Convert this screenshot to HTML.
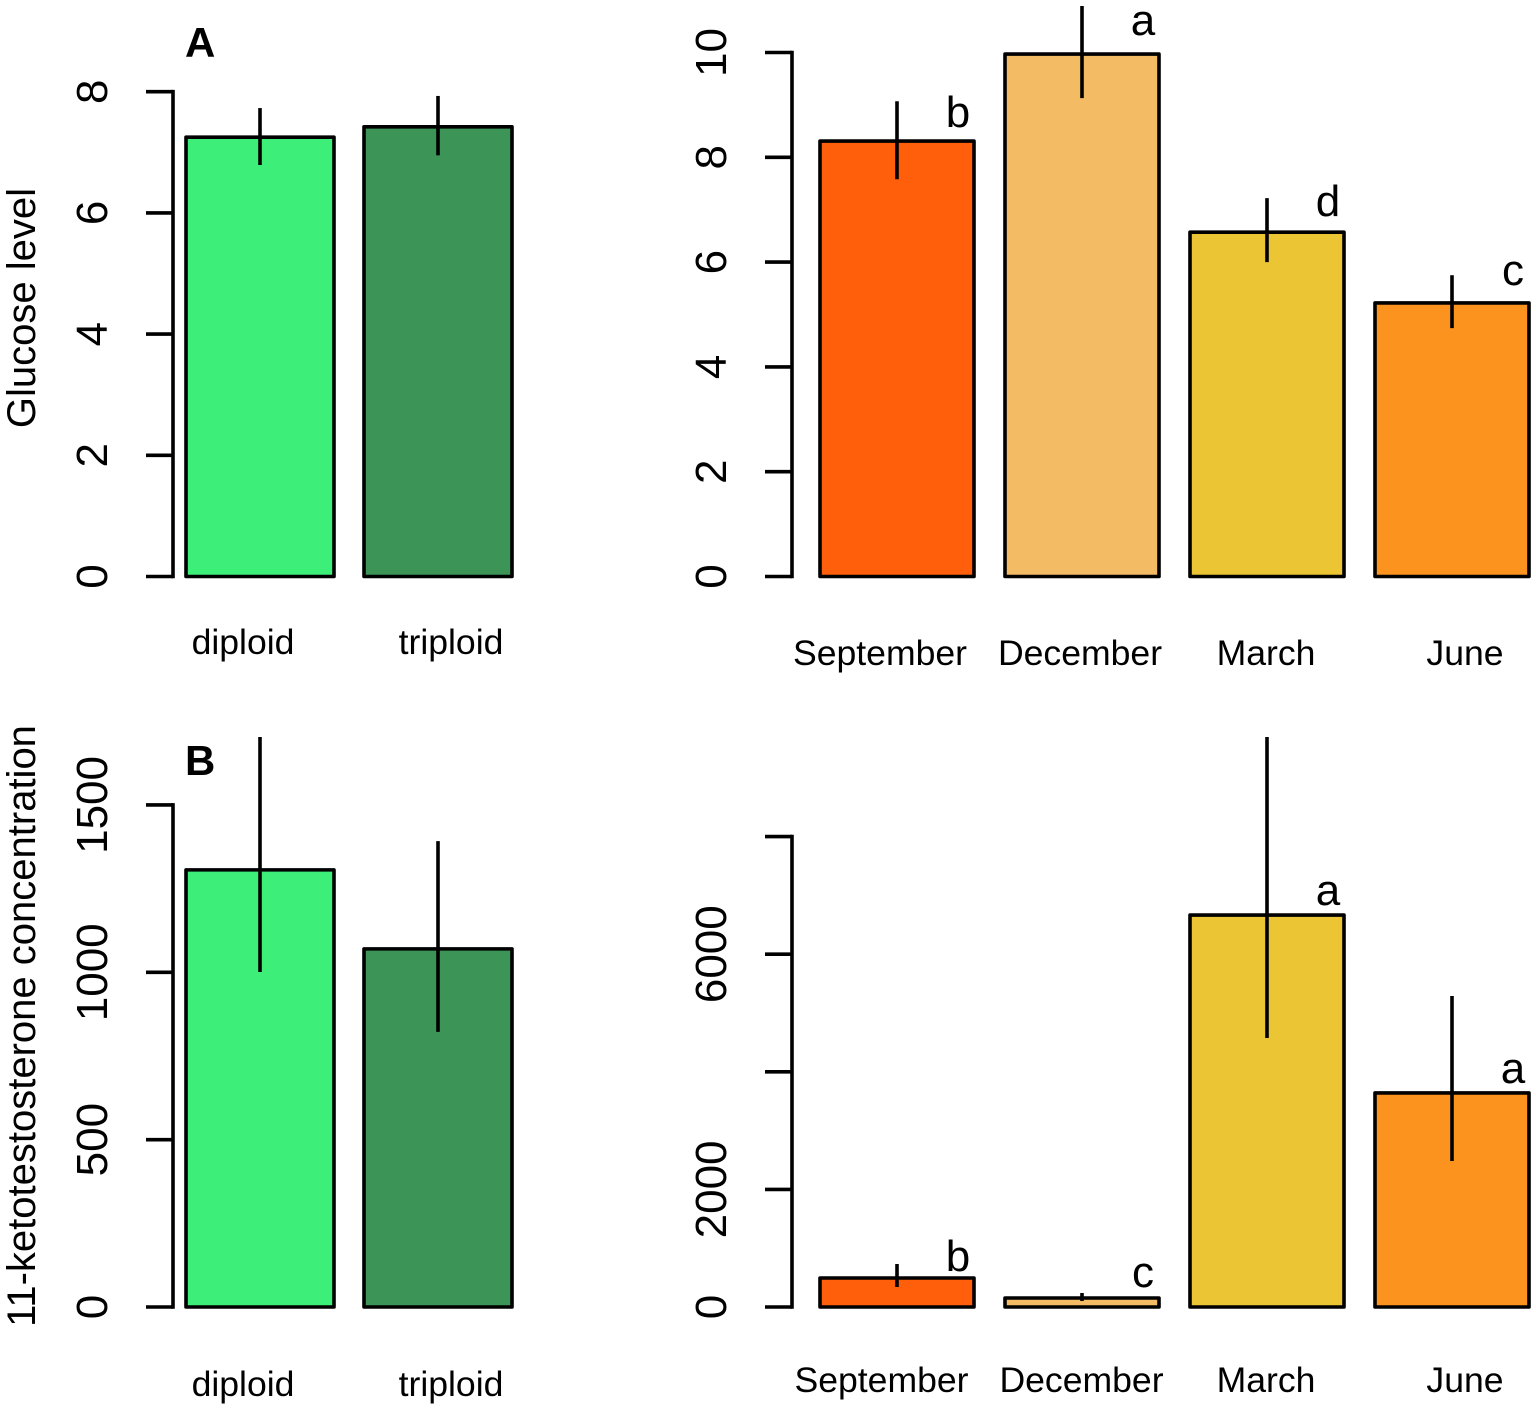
<!DOCTYPE html>
<html>
<head>
<meta charset="utf-8">
<title>Glucose and 11-ketotestosterone bar charts</title>
<style>
html,body{margin:0;padding:0;background:#fff}
svg{display:block}
text{font-family:"Liberation Sans",Arial,sans-serif;fill:#000}
</style>
</head>
<body>
<svg id="chart" xmlns="http://www.w3.org/2000/svg" width="1536" height="1409" viewBox="0 0 1536 1409"></svg>
<script>
// ---- Data ----
const ploidyCategories = ['diploid', 'triploid'];
const seasonCategories = ['September', 'December', 'March', 'June'];
const ploidyColors = ['#3def78', '#3c9556'];
const seasonColors = ['#ff5f0a', '#f4bb65', '#ebc533', '#fc931e'];

const glucosePloidyValues = [7.25, 7.42];
const glucosePloidyUpper = [7.73, 7.93];
const glucosePloidyLower = [6.79, 6.95];
const glucosePloidyTicks = [0, 2, 4, 6, 8];
const glucosePloidyTickLabels = ['0', '2', '4', '6', '8'];

const glucoseSeasonValues = [8.31, 9.97, 6.57, 5.22];
const glucoseSeasonUpper = [9.07, 10.95, 7.22, 5.75];
const glucoseSeasonLower = [7.58, 9.13, 6.0, 4.74];
const glucoseSeasonLetters = ['b', 'a', 'd', 'c'];
const glucoseSeasonTicks = [0, 2, 4, 6, 8, 10];
const glucoseSeasonTickLabels = ['0', '2', '4', '6', '8', '10'];

const ketoPloidyValues = [1306, 1070];
const ketoPloidyUpper = [1760, 1392];
const ketoPloidyLower = [1001, 822];
const ketoPloidyTicks = [0, 500, 1000, 1500];
const ketoPloidyTickLabels = ['0', '500', '1000', '1500'];

const ketoSeasonValues = [493, 153, 6666, 3640];
const ketoSeasonUpper = [731, 238, 10000, 5289];
const ketoSeasonLower = [340, 102, 4575, 2483];
const ketoSeasonLetters = ['b', 'c', 'a', 'a'];
const ketoSeasonTicks = [0, 2000, 4000, 6000, 8000];
const ketoSeasonTickLabels = ['0', '2000', '', '6000', ''];

// ---- Drawing helpers ----
const svg = document.getElementById('chart');
const NS = 'http://www.w3.org/2000/svg';
const LINE_WIDTH = 3.6;

function make(tag, attrs, parent) {
  const el = document.createElementNS(NS, tag);
  for (const k in attrs) el.setAttribute(k, attrs[k]);
  (parent || svg).appendChild(el);
  return el;
}

function drawPanel(p) {
  const group = make('g', {});
  
  

  const yScale = v => p.y0 - v * p.pxPerUnit;
  const clipId = p.name + '-clip';
  const defs = make('defs', {}, group);
  const clip = make('clipPath', { id: clipId }, defs);
  make('rect', { x: 0, y: p.clipTop, width: 1536, height: 1409 - p.clipTop }, clip);

  // y axis
  const firstTick = p.ticks[0];
  const lastTick = p.ticks[p.ticks.length - 1];
  const axisLine = make('line', {
    x1: p.axisX, x2: p.axisX, y1: yScale(firstTick), y2: yScale(lastTick),
    stroke: '#000', 'stroke-width': LINE_WIDTH, 'stroke-linecap': 'square'
  }, group);
  
  

  p.ticks.forEach((t, i) => {
    const tick = make('line', {
      x1: p.axisX - 27, x2: p.axisX, y1: yScale(t), y2: yScale(t),
      stroke: '#000', 'stroke-width': LINE_WIDTH
    }, group);
    
    
    if (p.tickLabels[i]) {
      const lbl = make('text', {
        x: p.axisX - 66, y: yScale(t), 'font-size': 44, 'text-anchor': 'middle',
        transform: 'rotate(-90 ' + (p.axisX - 66) + ' ' + yScale(t) + ')'
      }, group);
      lbl.textContent = p.tickLabels[i];
      
      
    }
  });

  // bars and error bars
  p.values.forEach((v, i) => {
    const left = p.barStart + i * p.barStep;
    const top = yScale(v);
    const bar = make('rect', {
      x: left, y: top, width: p.barWidth, height: yScale(0) - top,
      fill: p.colors[i], stroke: '#000', 'stroke-width': LINE_WIDTH, 'stroke-linejoin': 'round'
    }, group);
    
    

    const cx = left + p.barWidth / 2;
    const err = make('line', {
      x1: cx, x2: cx, y1: yScale(p.upper[i]), y2: yScale(p.lower[i]),
      stroke: '#000', 'stroke-width': LINE_WIDTH, 'clip-path': 'url(#' + clipId + ')'
    }, group);
    
    

    if (p.letters) {
      const sig = make('text', {
        x: left + p.barWidth - 16, y: top - p.letterGaps[i],
        'font-size': 44, 'text-anchor': 'middle'
      }, group);
      sig.textContent = p.letters[i];
      
      
    }

    const cat = make('text', {
      x: p.labelCenters[i], y: p.labelBaseline, 'font-size': 35.6, 'text-anchor': 'middle'
    }, group);
    cat.textContent = p.categories[i];
    
    
  });
}

// ---- Panels ----
drawPanel({
  name: 'glucose-ploidy', axisX: 173, y0: 576.5, pxPerUnit: 60.6, clipTop: 6,
  ticks: glucosePloidyTicks, tickLabels: glucosePloidyTickLabels,
  categories: ploidyCategories, colors: ploidyColors,
  values: glucosePloidyValues, upper: glucosePloidyUpper, lower: glucosePloidyLower,
  barStart: 186, barStep: 178, barWidth: 148,
  labelCenters: [243, 451], labelBaseline: 654
});
drawPanel({
  name: 'glucose-season', axisX: 792, y0: 576.5, pxPerUnit: 52.4, clipTop: 6,
  ticks: glucoseSeasonTicks, tickLabels: glucoseSeasonTickLabels,
  categories: seasonCategories, colors: seasonColors,
  values: glucoseSeasonValues, upper: glucoseSeasonUpper, lower: glucoseSeasonLower,
  letters: glucoseSeasonLetters, letterGaps: [14, 19, 16, 18],
  barStart: 820, barStep: 185, barWidth: 154,
  labelCenters: [880, 1080, 1266, 1465], labelBaseline: 665
});
drawPanel({
  name: 'keto-ploidy', axisX: 173, y0: 1307, pxPerUnit: 0.3347, clipTop: 737,
  ticks: ketoPloidyTicks, tickLabels: ketoPloidyTickLabels,
  categories: ploidyCategories, colors: ploidyColors,
  values: ketoPloidyValues, upper: ketoPloidyUpper, lower: ketoPloidyLower,
  barStart: 186, barStep: 178, barWidth: 148,
  labelCenters: [243, 451], labelBaseline: 1396
});
drawPanel({
  name: 'keto-season', axisX: 792, y0: 1307, pxPerUnit: 0.0588, clipTop: 737,
  ticks: ketoSeasonTicks, tickLabels: ketoSeasonTickLabels,
  categories: seasonCategories, colors: seasonColors,
  values: ketoSeasonValues, upper: ketoSeasonUpper, lower: ketoSeasonLower,
  letters: ketoSeasonLetters, letterGaps: [7, 11, 10, 10],
  barStart: 820, barStep: 185, barWidth: 154,
  labelCenters: [881.5, 1081.5, 1266, 1465], labelBaseline: 1392
});

// ---- Titles ----
const glucoseTitle = make('text', { x: 35, y: 308, 'font-size': 40, 'text-anchor': 'middle', transform: 'rotate(-90 35 308)' });
glucoseTitle.textContent = 'Glucose level';



const ketoTitle = make('text', { x: 35, y: 1026, 'font-size': 40, 'text-anchor': 'middle', transform: 'rotate(-90 35 1026)' });
ketoTitle.textContent = '11-ketotestosterone concentration';



const panelA = make('text', { x: 185, y: 57, 'font-size': 42, 'font-weight': 'bold' });
panelA.textContent = 'A';



const panelB = make('text', { x: 185, y: 775, 'font-size': 42, 'font-weight': 'bold' });
panelB.textContent = 'B';


</script>
</body>
</html>
